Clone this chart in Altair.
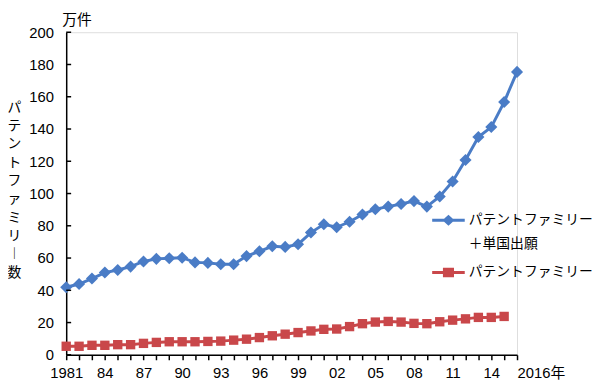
import altair as alt
import pandas as pd

# ---- data ----
years_total = list(range(1981, 2017))
family_plus_single = [41.9, 43.9, 47.3, 51.0, 52.6, 54.7, 57.9, 59.5, 59.9, 60.2,
                      57.3, 57.0, 56.1, 56.1, 61.2, 64.2, 67.3, 66.9, 68.5, 75.8,
                      80.9, 79.1, 82.5, 87.0, 90.3, 91.9, 93.5, 95.3, 91.9, 98.2,
                      107.5, 120.8, 135.0, 141.2, 156.7, 175.4]
years_family = list(range(1981, 2016))
family = [5.3, 5.3, 5.9, 5.9, 6.3, 6.3, 7.1, 7.7, 8.1, 8.1,
          8.1, 8.3, 8.5, 9.1, 9.7, 10.7, 11.8, 12.8, 13.8, 14.8,
          15.8, 16.0, 17.5, 19.3, 20.3, 20.7, 20.3, 19.5, 19.3, 20.5,
          21.5, 22.3, 23.2, 23.2, 23.8]
series_names = ["パテントファミリー＋単国出願", "パテントファミリー"]
series_colors = ["#4A7CC6", "#C9474A"]
y_tick_values = list(range(0, 201, 20))
x_tick_values = list(range(1981, 2017))
y_title_chars = ["パ", "テ", "ン", "ト", "フ", "ァ", "ミ", "リ", "︱", "数"]

df = pd.DataFrame(
    {"year": years_total + years_family,
     "value": family_plus_single + family,
     "series": [series_names[0]] * len(years_total) + [series_names[1]] * len(years_family)}
)
ticks_df = pd.DataFrame({"value": y_tick_values})

JP = "Noto Sans CJK JP"
NUM = "Liberation Sans, Noto Sans CJK JP"

# legend symbols: line segment + marker
path_blue = "M-1,-0.09L1,-0.09L1,0.09L-1,0.09Z M0,-0.34L0.37,0L0,0.34L-0.37,0Z"
path_red = "M-1,-0.09L1,-0.09L1,0.09L-1,0.09Z M-0.34,-0.29L0.34,-0.29L0.34,0.29L-0.34,0.29Z"

x_enc = alt.X("year:Q",
              scale=alt.Scale(domain=[1981, 2016], nice=False, zero=False),
              axis=alt.Axis(title=None, values=x_tick_values, grid=False,
                            labelExpr="datum.value == 1981 ? '1981' : datum.value == 2016 ? '2016年' : (datum.value - 1981) % 3 == 0 ? substring(toString(datum.value), 2, 4) : ''",
                            labelAlign={"condition": {"test": "datum.value == 2016", "value": "left"}, "value": "center"},
                            labelOverlap=False, labelFlush=False,
                            labelFont=NUM, labelFontSize=15, labelColor="black",
                            labelPadding=6,
                            tickSize=5, tickWidth=1.5, tickColor="black",
                            domainColor="black", domainWidth=1.5))
y_enc = alt.Y("value:Q",
              scale=alt.Scale(domain=[0, 200], nice=False),
              axis=alt.Axis(title=y_title_chars, titleAngle=0, titleX=-53, titleY=69,
                            titleAlign="center", titleBaseline="top", titleLineHeight=18.6,
                            titleFont=JP, titleFontSize=14, titleFontWeight="normal",
                            titleColor="black",
                            values=y_tick_values, grid=False, ticks=False,
                            labelOverlap=False,
                            labelFont=NUM, labelFontSize=15, labelColor="black",
                            labelPadding=13,
                            domainColor="black", domainWidth=1.5))

color_scale = alt.Scale(domain=series_names, range=series_colors)
shape_scale = alt.Scale(domain=series_names, range=[path_blue, path_red])

legend = alt.Legend(title=None, orient="none", legendX=371, legendY=174,
                    symbolSize=1089, symbolStrokeWidth=0, symbolOpacity=1,
                    labelFont=JP, labelFontSize=14, labelColor="black",
                    labelOffset=4, rowPadding=5, padding=0,
                    labelExpr="datum.label == 'パテントファミリー＋単国出願' ? ['パテントファミリー', '＋単国出願'] : datum.label")

base = alt.Chart(df)
color_enc = alt.Color("series:N", scale=color_scale, legend=None)

# invisible layer (size 0) that only carries the legend
legend_layer = base.mark_point(filled=True, size=0, strokeWidth=0).encode(
    x=x_enc, y=y_enc,
    fill=alt.Fill("series:N", scale=color_scale, legend=legend),
    shape=alt.Shape("series:N", scale=shape_scale, legend=legend))

lines = base.mark_line(strokeWidth=3).encode(
    x=x_enc, y=y_enc, color=color_enc, detail="series:N")

pts_blue = base.transform_filter(alt.datum.series == series_names[0]).mark_point(
    filled=True, size=150, opacity=1, strokeWidth=0).encode(
    x=x_enc, y=y_enc, color=color_enc, shape=alt.value("diamond"))

pts_red = base.transform_filter(alt.datum.series == series_names[1]).mark_point(
    filled=True, size=90, opacity=1, strokeWidth=0).encode(
    x=x_enc, y=y_enc, color=color_enc, shape=alt.value("square"))

inner_ticks = alt.Chart(ticks_df).mark_rule(color="black", strokeWidth=1.5).encode(
    y=y_enc, x=alt.value(0), x2=alt.value(5))

chart = alt.layer(legend_layer, lines, pts_blue, pts_red, inner_ticks).properties(
    width=457, height=327,
    autosize=alt.AutoSizeParams(type="none"),
    padding={"left": 59, "top": 22, "right": 76, "bottom": 26},
    title=alt.TitleParams(text="万件", anchor="start", frame="group", font=JP,
                          fontSize=15, fontWeight="normal", color="black",
                          dx=-4, offset=-3),
).configure_view(stroke=None).configure(
    style={"guide-label": {"lineHeight": 24}}
)

chart.save("out.html", embed_options={"renderer": "svg", "actions": False})
